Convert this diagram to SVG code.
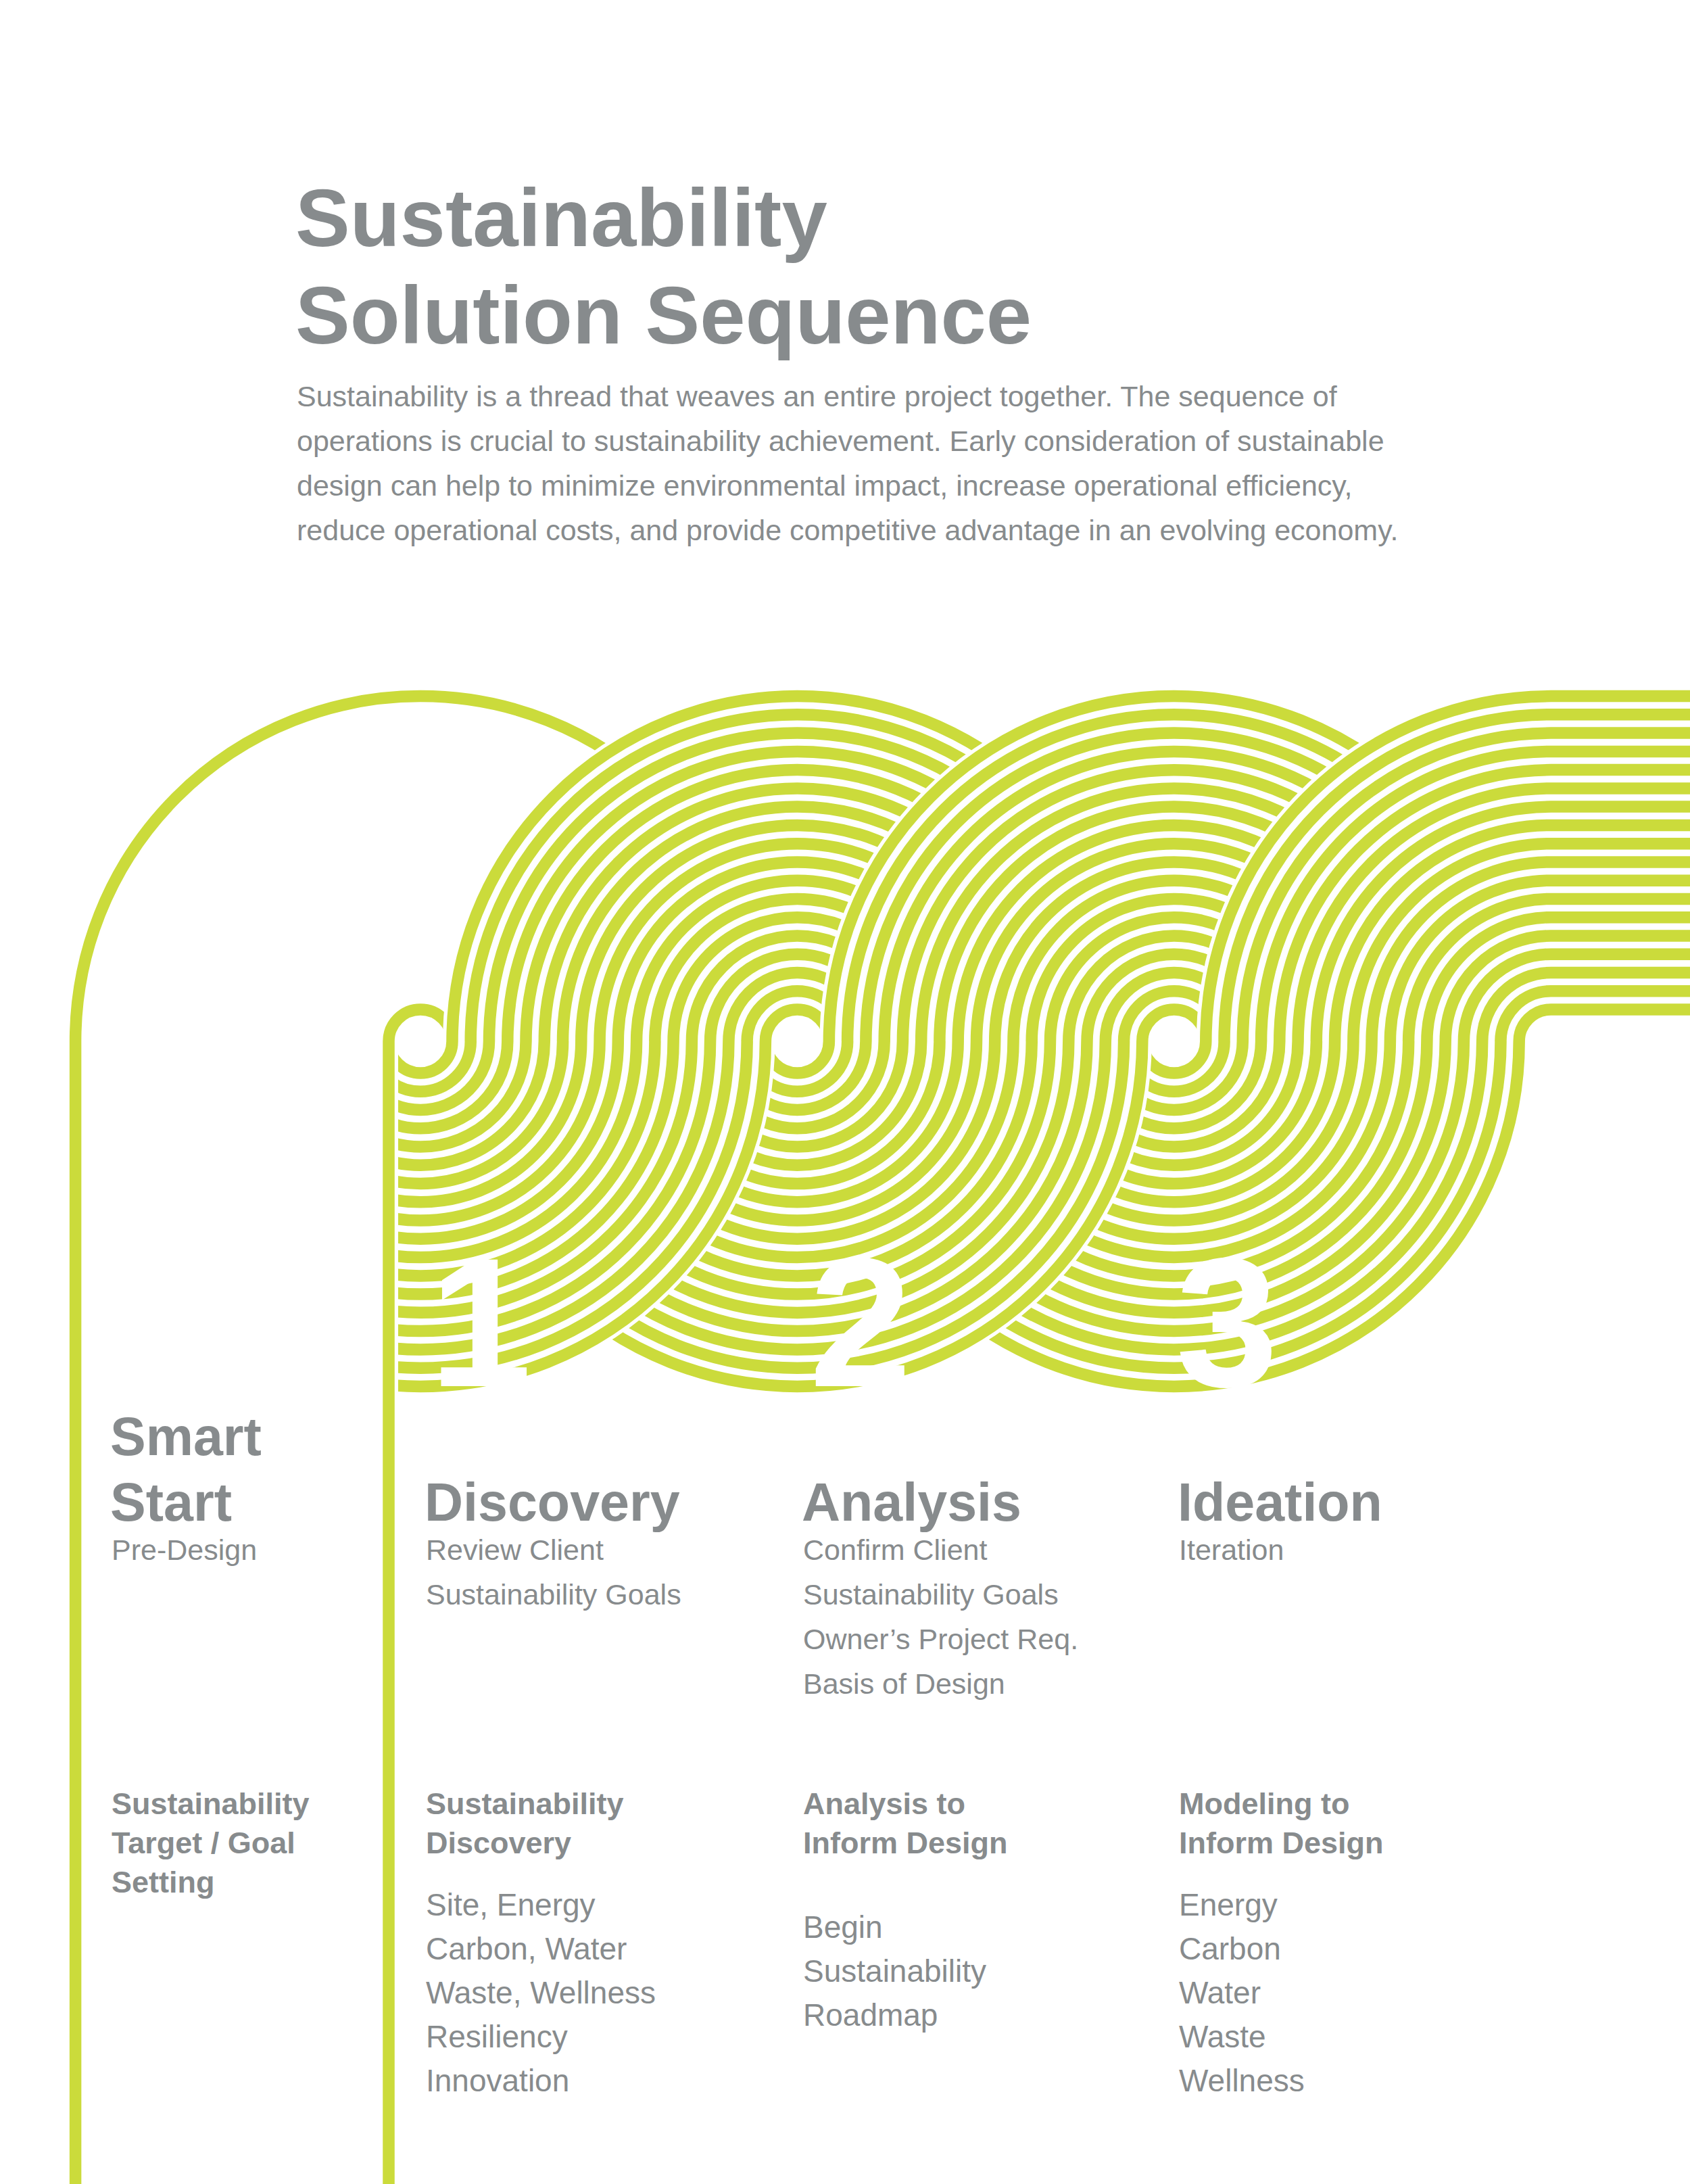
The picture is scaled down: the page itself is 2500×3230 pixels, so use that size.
<svg xmlns="http://www.w3.org/2000/svg" xmlns:xlink="http://www.w3.org/1999/xlink" width="2500" height="3230" viewBox="0 0 2500 3230">
<style>
.case{fill:none;stroke:#fff;stroke-width:28}
.ln{fill:none;stroke:#CBDB3B;stroke-width:17.5}
.t{font-family:"Liberation Sans",Arial,sans-serif;fill:#878b8d}
.b{font-weight:bold}
.num{font-family:"Liberation Sans",Arial,sans-serif;font-weight:bold;font-size:272px;fill:#fff;text-anchor:middle}
</style>
<defs>
<clipPath id="c1"><rect x="584" y="1500" width="1000" height="700"/></clipPath>
<path id="b1" d="M575,1540a47,47 0 0 0 94,0 M547.7,1540a74.3,74.3 0 0 0 148.6,0 M520.5,1540a101.5,101.5 0 0 0 203,0 M493.2,1540a128.8,128.8 0 0 0 257.6,0 M466,1540a156,156 0 0 0 312,0 M438.7,1540a183.3,183.3 0 0 0 366.6,0 M411.4,1540a210.6,210.6 0 0 0 421.2,0 M384.2,1540a237.8,237.8 0 0 0 475.6,0 M356.9,1540a265.1,265.1 0 0 0 530.2,0 M329.7,1540a292.3,292.3 0 0 0 584.6,0 M302.4,1540a319.6,319.6 0 0 0 639.2,0 M275.1,1540a346.9,346.9 0 0 0 693.8,0 M247.9,1540a374.1,374.1 0 0 0 748.2,0 M220.6,1540a401.4,401.4 0 0 0 802.8,0 M193.4,1540a428.6,428.6 0 0 0 857.2,0 M166.1,1540a455.9,455.9 0 0 0 911.8,0 M138.8,1540a483.2,483.2 0 0 0 966.4,0 M111.6,1540a510.4,510.4 0 0 0 1020.8,0"/>
<path id="b2" d="M1132.4,1540a47,47 0 0 0 94,0 M1105.1,1540a74.3,74.3 0 0 0 148.6,0 M1077.9,1540a101.5,101.5 0 0 0 203,0 M1050.6,1540a128.8,128.8 0 0 0 257.6,0 M1023.4,1540a156,156 0 0 0 312,0 M996.1,1540a183.3,183.3 0 0 0 366.6,0 M968.8,1540a210.6,210.6 0 0 0 421.2,0 M941.6,1540a237.8,237.8 0 0 0 475.6,0 M914.3,1540a265.1,265.1 0 0 0 530.2,0 M887.1,1540a292.3,292.3 0 0 0 584.6,0 M859.8,1540a319.6,319.6 0 0 0 639.2,0 M832.5,1540a346.9,346.9 0 0 0 693.8,0 M805.3,1540a374.1,374.1 0 0 0 748.2,0 M778,1540a401.4,401.4 0 0 0 802.8,0 M750.8,1540a428.6,428.6 0 0 0 857.2,0 M723.5,1540a455.9,455.9 0 0 0 911.8,0 M696.2,1540a483.2,483.2 0 0 0 966.4,0 M669,1540a510.4,510.4 0 0 0 1020.8,0"/>
<path id="b3" d="M1689.8,1540a47,47 0 0 0 94,0 M1662.5,1540a74.3,74.3 0 0 0 148.6,0 M1635.3,1540a101.5,101.5 0 0 0 203,0 M1608,1540a128.8,128.8 0 0 0 257.6,0 M1580.8,1540a156,156 0 0 0 312,0 M1553.5,1540a183.3,183.3 0 0 0 366.6,0 M1526.2,1540a210.6,210.6 0 0 0 421.2,0 M1499,1540a237.8,237.8 0 0 0 475.6,0 M1471.7,1540a265.1,265.1 0 0 0 530.2,0 M1444.5,1540a292.3,292.3 0 0 0 584.6,0 M1417.2,1540a319.6,319.6 0 0 0 639.2,0 M1389.9,1540a346.9,346.9 0 0 0 693.8,0 M1362.7,1540a374.1,374.1 0 0 0 748.2,0 M1335.4,1540a401.4,401.4 0 0 0 802.8,0 M1308.2,1540a428.6,428.6 0 0 0 857.2,0 M1280.9,1540a455.9,455.9 0 0 0 911.8,0 M1253.6,1540a483.2,483.2 0 0 0 966.4,0 M1226.4,1540a510.4,510.4 0 0 0 1020.8,0"/>
<path id="t1" d="M575,3230V1540a47,47 0 0 1 94,0 M111.6,3230V1540a510.4,510.4 0 0 1 1020.8,0"/>
<path id="t2" d="M1132.4,1540a47,47 0 0 1 94,0 M1105.1,1540a74.3,74.3 0 0 1 148.6,0 M1077.9,1540a101.5,101.5 0 0 1 203,0 M1050.6,1540a128.8,128.8 0 0 1 257.6,0 M1023.4,1540a156,156 0 0 1 312,0 M996.1,1540a183.3,183.3 0 0 1 366.6,0 M968.8,1540a210.6,210.6 0 0 1 421.2,0 M941.6,1540a237.8,237.8 0 0 1 475.6,0 M914.3,1540a265.1,265.1 0 0 1 530.2,0 M887.1,1540a292.3,292.3 0 0 1 584.6,0 M859.8,1540a319.6,319.6 0 0 1 639.2,0 M832.5,1540a346.9,346.9 0 0 1 693.8,0 M805.3,1540a374.1,374.1 0 0 1 748.2,0 M778,1540a401.4,401.4 0 0 1 802.8,0 M750.8,1540a428.6,428.6 0 0 1 857.2,0 M723.5,1540a455.9,455.9 0 0 1 911.8,0 M696.2,1540a483.2,483.2 0 0 1 966.4,0 M669,1540a510.4,510.4 0 0 1 1020.8,0"/>
<path id="t3" d="M1689.8,1540a47,47 0 0 1 94,0 M1662.5,1540a74.3,74.3 0 0 1 148.6,0 M1635.3,1540a101.5,101.5 0 0 1 203,0 M1608,1540a128.8,128.8 0 0 1 257.6,0 M1580.8,1540a156,156 0 0 1 312,0 M1553.5,1540a183.3,183.3 0 0 1 366.6,0 M1526.2,1540a210.6,210.6 0 0 1 421.2,0 M1499,1540a237.8,237.8 0 0 1 475.6,0 M1471.7,1540a265.1,265.1 0 0 1 530.2,0 M1444.5,1540a292.3,292.3 0 0 1 584.6,0 M1417.2,1540a319.6,319.6 0 0 1 639.2,0 M1389.9,1540a346.9,346.9 0 0 1 693.8,0 M1362.7,1540a374.1,374.1 0 0 1 748.2,0 M1335.4,1540a401.4,401.4 0 0 1 802.8,0 M1308.2,1540a428.6,428.6 0 0 1 857.2,0 M1280.9,1540a455.9,455.9 0 0 1 911.8,0 M1253.6,1540a483.2,483.2 0 0 1 966.4,0 M1226.4,1540a510.4,510.4 0 0 1 1020.8,0"/>
<path id="t4" d="M2247.2,1540a47,47 0 0 1 47,-47H2500 M2219.9,1540a74.3,74.3 0 0 1 74.3,-74.3H2500 M2192.7,1540a101.5,101.5 0 0 1 101.5,-101.5H2500 M2165.4,1540a128.8,128.8 0 0 1 128.8,-128.8H2500 M2138.2,1540a156,156 0 0 1 156,-156H2500 M2110.9,1540a183.3,183.3 0 0 1 183.3,-183.3H2500 M2083.6,1540a210.6,210.6 0 0 1 210.6,-210.6H2500 M2056.4,1540a237.8,237.8 0 0 1 237.8,-237.8H2500 M2029.1,1540a265.1,265.1 0 0 1 265.1,-265.1H2500 M2001.9,1540a292.3,292.3 0 0 1 292.3,-292.3H2500 M1974.6,1540a319.6,319.6 0 0 1 319.6,-319.6H2500 M1947.3,1540a346.9,346.9 0 0 1 346.9,-346.9H2500 M1920.1,1540a374.1,374.1 0 0 1 374.1,-374.1H2500 M1892.8,1540a401.4,401.4 0 0 1 401.4,-401.4H2500 M1865.6,1540a428.6,428.6 0 0 1 428.6,-428.6H2500 M1838.3,1540a455.9,455.9 0 0 1 455.9,-455.9H2500 M1811,1540a483.2,483.2 0 0 1 483.2,-483.2H2500 M1783.8,1540a510.4,510.4 0 0 1 510.4,-510.4H2500"/>
</defs>
<rect width="2500" height="3230" fill="#fff"/>
<g id="title">
<text class="t b" x="437" y="364" font-size="121">Sustainability</text>
<text class="t b" x="437" y="508" font-size="121">Solution Sequence</text>
</g>
<g id="intro" class="t" font-size="43">
<text x="439" y="601">Sustainability is a thread that weaves an entire project together. The sequence of</text>
<text x="439" y="667">operations is crucial to sustainability achievement. Early consideration of sustainable</text>
<text x="439" y="733">design can help to minimize environmental impact, increase operational efficiency,</text>
<text x="439" y="799">reduce operational costs, and provide competitive advantage in an evolving economy.</text>
</g>
<g id="connectors">
<use xlink:href="#b3" class="case"/><use xlink:href="#b3" class="ln"/>
<use xlink:href="#b2" class="case"/><use xlink:href="#b2" class="ln"/>
<g clip-path="url(#c1)"><use xlink:href="#b1" class="case"/><use xlink:href="#b1" class="ln"/></g>
<use xlink:href="#t1" class="case"/><use xlink:href="#t1" class="ln"/>
<use xlink:href="#t2" class="case"/><use xlink:href="#t2" class="ln"/>
<use xlink:href="#t3" class="case"/><use xlink:href="#t3" class="ln"/>
<use xlink:href="#t4" class="case"/><use xlink:href="#t4" class="ln"/>
</g>
<g id="numbers">
<text class="num" x="711" y="2050">1</text>
<text class="num" x="1273" y="2050">2</text>
<text class="num" x="1815" y="2050">3</text>
</g>
<g id="smart-start" class="t">
<text class="b" x="163" y="2152" font-size="79">Smart</text>
<text class="b" x="163" y="2249" font-size="79">Start</text>
<text x="165" y="2307" font-size="43">Pre-Design</text>
<text class="b" x="165" y="2683" font-size="45">Sustainability</text>
<text class="b" x="165" y="2741" font-size="45">Target / Goal</text>
<text class="b" x="165" y="2799" font-size="45">Setting</text>
</g>
<g id="discovery" class="t">
<text class="b" x="628" y="2249" font-size="79">Discovery</text>
<text x="630" y="2307" font-size="43">Review Client</text>
<text x="630" y="2373" font-size="43">Sustainability Goals</text>
<text class="b" x="630" y="2683" font-size="45">Sustainability</text>
<text class="b" x="630" y="2741" font-size="45">Discovery</text>
<text x="630" y="2833" font-size="46">Site, Energy</text>
<text x="630" y="2898" font-size="46">Carbon, Water</text>
<text x="630" y="2963" font-size="46">Waste, Wellness</text>
<text x="630" y="3028" font-size="46">Resiliency</text>
<text x="630" y="3093" font-size="46">Innovation</text>
</g>
<g id="analysis" class="t">
<text class="b" x="1186" y="2249" font-size="79">Analysis</text>
<text x="1188" y="2307" font-size="43">Confirm Client</text>
<text x="1188" y="2373" font-size="43">Sustainability Goals</text>
<text x="1188" y="2439" font-size="43">Owner’s Project Req.</text>
<text x="1188" y="2505" font-size="43">Basis of Design</text>
<text class="b" x="1188" y="2683" font-size="45">Analysis to</text>
<text class="b" x="1188" y="2741" font-size="45">Inform Design</text>
<text x="1188" y="2866" font-size="46">Begin</text>
<text x="1188" y="2931" font-size="46">Sustainability</text>
<text x="1188" y="2996" font-size="46">Roadmap</text>
</g>
<g id="ideation" class="t">
<text class="b" x="1742" y="2249" font-size="79">Ideation</text>
<text x="1744" y="2307" font-size="43">Iteration</text>
<text class="b" x="1744" y="2683" font-size="45">Modeling to</text>
<text class="b" x="1744" y="2741" font-size="45">Inform Design</text>
<text x="1744" y="2833" font-size="46">Energy</text>
<text x="1744" y="2898" font-size="46">Carbon</text>
<text x="1744" y="2963" font-size="46">Water</text>
<text x="1744" y="3028" font-size="46">Waste</text>
<text x="1744" y="3093" font-size="46">Wellness</text>
</g>
</svg>
